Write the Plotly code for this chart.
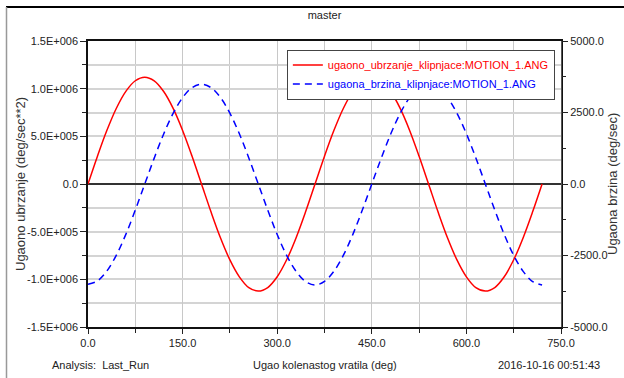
import plotly.graph_objects as go

# Data (crank angle in degrees)
angle_deg = [0, 15, 30, 45, 60, 75, 90, 105, 120, 135, 150, 165, 180, 195, 210, 225, 240,
             255, 270, 285, 300, 315, 330, 345, 360, 375, 390, 405, 420, 435, 450, 465, 480,
             495, 510, 525, 540, 555, 570, 585, 600, 615, 630, 645, 660, 675, 690, 705, 720]

# angular acceleration of the connecting rod (deg/sec**2)
ang_accel = [0, 2.92e5, 5.63e5, 7.95e5, 9.72e5, 1.083e6, 1.12e6, 1.082e6, 9.70e5, 7.93e5,
             5.62e5, 2.91e5, 0, -2.92e5, -5.64e5, -7.96e5, -9.74e5, -1.087e6, -1.123e6,
             -1.086e6, -9.73e5, -7.95e5, -5.63e5, -2.92e5, 0, 2.92e5, 5.63e5, 7.95e5, 9.72e5,
             1.083e6, 1.12e6, 1.082e6, 9.70e5, 7.93e5, 5.62e5, 2.91e5, 0, -2.92e5, -5.64e5,
             -7.96e5, -9.74e5, -1.087e6, -1.123e6, -1.086e6, -9.73e5, -7.95e5, -5.63e5,
             -2.92e5, 0]

# angular velocity of the connecting rod (deg/sec)
ang_vel = [-3510, -3390, -3040, -2485, -1760, -910, 0, 905, 1750, 2470, 3020, 3370, 3490,
           3370, 3025, 2475, 1755, 910, 0, -910, -1765, -2495, -3055, -3410, -3530, -3405,
           -3050, -2490, -1760, -910, 0, 905, 1750, 2470, 3020, 3370, 3490, 3370, 3025,
           2475, 1755, 910, 0, -910, -1765, -2495, -3055, -3410, -3530]

x_tickvals = [0, 150, 300, 450, 600, 750]
x_ticktext = ["0.0", "150.0", "300.0", "450.0", "600.0", "750.0"]
y1_tickvals = [-1.5e6, -1.0e6, -5e5, 0, 5e5, 1.0e6, 1.5e6]
y1_ticktext = ["-1.5E+006", "-1.0E+006", "-5.0E+005", "0.0", "5.0E+005", "1.0E+006", "1.5E+006"]
y2_tickvals = [-5000, -2500, 0, 2500, 5000]
y2_ticktext = ["-5000.0", "-2500.0", "0.0", "2500.0", "5000.0"]

narrow = "Liberation Sans Narrow, Arial Narrow, Liberation Sans, sans-serif"
wide = "Liberation Sans, Arial, sans-serif"
FS = 11

fig = go.Figure()
fig.add_trace(go.Scatter(
    x=angle_deg, y=ang_accel, mode="lines", line=dict(color="#ff0000", width=1.5, shape="spline"),
    name="<span style='color:#ff0000'>ugaono_ubrzanje_klipnjace:MOTION_1.ANG</span>",
    yaxis="y"))
fig.add_trace(go.Scatter(
    x=angle_deg, y=ang_vel, mode="lines",
    line=dict(color="#0000ff", width=1.5, dash="7px,5px", shape="spline"),
    name="<span style='color:#0000ff'>ugaona_brzina_klipnjace:MOTION_1.ANG</span>",
    yaxis="y2"))

fig.update_layout(
    width=624, height=378,
    margin=dict(l=88, r=63, t=41, b=51, autoexpand=False),
    paper_bgcolor="white", plot_bgcolor="white",
    font=dict(family=narrow, size=FS, color="#222222"),
    showlegend=True,
    legend=dict(x=0.987, y=0.97, xanchor="right", yanchor="top",
                bgcolor="white", bordercolor="#444444", borderwidth=1,
                font=dict(family=narrow, size=FS), tracegroupgap=0,
                itemwidth=30),
    title=dict(text="master", x=0.5, xref="paper", y=1 - 15 / 378, yanchor="middle",
               font=dict(family=narrow, size=FS, color="#222222")),
    xaxis=dict(range=[0, 750], tickvals=x_tickvals, ticktext=x_ticktext, automargin=False,
               showgrid=True, gridcolor="#c8c8c8", gridwidth=1,
               minor=dict(dtick=75, tick0=0, showgrid=True, gridcolor="#c8c8c8", gridwidth=1,
                          ticks="outside", ticklen=4, tickcolor="#222"),
               ticks="outside", ticklen=5, tickcolor="#222",
               showline=True, linecolor="#111", linewidth=1.5, mirror=True,
               zeroline=False, tickfont=dict(size=FS)),
    yaxis=dict(range=[-1.5e6, 1.5e6], tickvals=y1_tickvals, ticktext=y1_ticktext,
               automargin=False,
               showgrid=True, gridcolor="#d4d4d4", gridwidth=2,
               minor=dict(dtick=2.5e5, tick0=0, showgrid=True, gridcolor="#d4d4d4", gridwidth=2,
                          ticks="outside", ticklen=4, tickcolor="#222"),
               ticks="outside", ticklen=6, tickcolor="#222",
               showline=True, linecolor="#111", linewidth=1.5, mirror=True,
               zeroline=True, zerolinecolor="#333", zerolinewidth=1.5),
    yaxis2=dict(range=[-5000, 5000], tickvals=y2_tickvals, ticktext=y2_ticktext,
                automargin=False,
                overlaying="y", side="right", showgrid=False, zeroline=False,
                minor=dict(dtick=1250, tick0=0, ticks="outside", ticklen=4, tickcolor="#222"),
                ticks="outside", ticklen=6, tickcolor="#222",
                showline=True, linecolor="#555", linewidth=1),
)

# axis titles placed as rotated annotations
fig.add_annotation(text="Ugaono ubrzanje (deg/sec**2)", xref="paper", yref="paper",
                   x=(20 - 88) / 473, y=0.5, xanchor="center", yanchor="middle",
                   textangle=-90, showarrow=False,
                   font=dict(family=wide, size=13, color="#333"))
fig.add_annotation(text="Ugaona brzina (deg/sec)", xref="paper", yref="paper",
                   x=(612 - 88) / 473, y=0.5, xanchor="center", yanchor="middle",
                   textangle=-90, showarrow=False,
                   font=dict(family=wide, size=13, color="#333"))

fig.add_annotation(text="Ugao kolenastog vratila (deg)", xref="paper", yref="paper",
                   x=0.5, y=-38 / 286, yanchor="middle", showarrow=False,
                   font=dict(family=narrow, size=FS, color="#222"))
fig.add_annotation(text="Analysis:  Last_Run", xref="paper", yref="paper",
                   x=-38 / 473, xanchor="left", y=-38 / 286, yanchor="middle", showarrow=False,
                   font=dict(family=narrow, size=FS, color="#222"))
fig.add_annotation(text="2016-10-16 00:51:43", xref="paper", yref="paper",
                   x=1 + 41 / 473, xanchor="right", y=-38 / 286, yanchor="middle",
                   showarrow=False, font=dict(family=narrow, size=FS, color="#222"))

# outer frame lines (top and left)
fig.add_shape(type="line", xref="paper", yref="paper", x0=-82 / 473, x1=1 + 63 / 473,
              y0=1 + 34 / 286, y1=1 + 34 / 286, line=dict(color="#000", width=2))
fig.add_shape(type="line", xref="paper", yref="paper", x0=-81.5 / 473, x1=-81.5 / 473,
              y0=1 + 34 / 286, y1=-51 / 286, line=dict(color="#999", width=1.5))

fig.write_html("out.html", config={"displayModeBar": False},
               post_script="document.body.style.margin='0';document.body.style.overflow='hidden';")
